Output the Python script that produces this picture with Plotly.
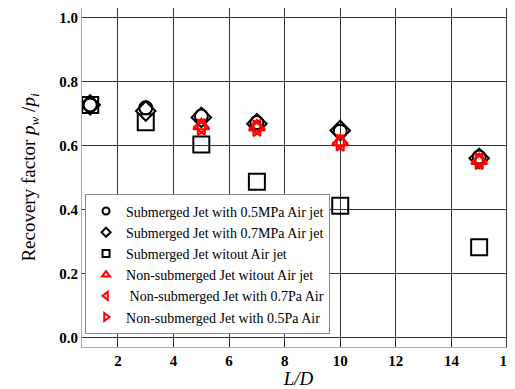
import plotly.graph_objects as go

x_sub = [1, 3, 5, 7, 10, 15]
sub_05 = [0.727, 0.718, 0.692, 0.672, 0.645, 0.564]
sub_07 = [0.727, 0.708, 0.688, 0.668, 0.647, 0.560]
sub_none = [0.727, 0.673, 0.603, 0.487, 0.412, 0.282]
x_non = [5, 7, 10, 15]
non_none = [0.662, 0.658, 0.612, 0.553]
non_07 = [0.658, 0.655, 0.608, 0.551]
non_05 = [0.657, 0.654, 0.609, 0.551]

names = [
    "Submerged Jet with 0.5MPa Air jet",
    "Submerged Jet with 0.7MPa Air jet",
    "Submerged Jet witout Air jet",
    "Non-submerged Jet witout Air jet",
    " Non-submerged Jet with 0.7Pa Air",
    "Non-submerged Jet with 0.5Pa Air",
]

fig = go.Figure()
series = [
    (x_sub, sub_05, "circle-open", "black", 13),
    (x_sub, sub_07, "diamond-open", "black", 15),
    (x_sub, sub_none, "square-open", "black", 16),
    (x_non, non_none, "triangle-up-open", "red", 14),
    (x_non, non_07, "triangle-left-open", "red", 14),
    (x_non, non_05, "triangle-right-open", "red", 14),
]
for (xs, ys, sym, col, sz), nm in zip(series, names):
    fig.add_trace(go.Scatter(
        x=xs, y=ys, mode="markers", name=nm, showlegend=False,
        marker=dict(symbol=sym, size=sz, color=col, line=dict(width=2, color=col)),
    ))
# legend entries with small markers
for (xs, ys, sym, col, sz), nm in zip(series, names):
    fig.add_trace(go.Scatter(
        x=[None], y=[None], mode="markers", name=nm, showlegend=True,
        marker=dict(symbol=sym, size=7, color=col, line=dict(width=2, color=col)),
    ))

# page body has an 8px margin, so the figure is sized to fill the rest
fig.update_layout(
    width=507, height=381,
    margin=dict(l=74, r=0, t=0, b=42),
    paper_bgcolor="white", plot_bgcolor="white",
    font=dict(family="Liberation Serif", color="black"),
    showlegend=True,
    legend=dict(
        x=0.007, y=0.45, xanchor="left", yanchor="top",
        bgcolor="white", bordercolor="#888", borderwidth=1,
        font=dict(family="Liberation Serif", size=14, color="black"),
        tracegroupgap=0, itemwidth=30,
    ),
    xaxis=dict(
        range=[0.705, 16.29], tickvals=[2, 4, 6, 8, 10, 12, 14, 16],
        showgrid=True, gridcolor="#333", gridwidth=1, zeroline=False,
        showline=True, linecolor="#aaa", mirror=True, automargin=False,
        ticklabeloverflow="allow",
        tickfont=dict(family="Liberation Serif", size=15, weight="bold"),
        title=dict(text="<i>L/D</i>", font=dict(family="Liberation Serif", size=19), standoff=4),
    ),
    yaxis=dict(
        range=[-0.03, 1.03], tickvals=[0.0, 0.2, 0.4, 0.6, 0.8, 1.0], tickformat=".1f",
        showgrid=True, gridcolor="#333", gridwidth=1, zeroline=False,
        showline=True, linecolor="#aaa", mirror=True, automargin=False,
        tickfont=dict(family="Liberation Serif", size=15, weight="bold"),
        title=dict(text="Recovery factor <i>p<sub>w</sub></i> /<i>p<sub>i</sub></i>",
                   font=dict(family="Liberation Serif", size=19), standoff=18),
    ),
)
fig.write_html("out.html")
